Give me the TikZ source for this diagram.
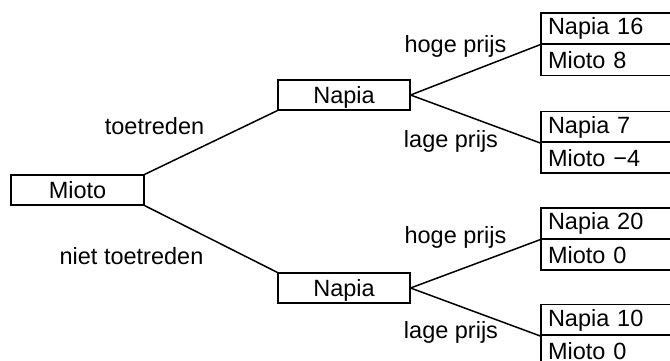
\documentclass[tikz,border=0pt]{standalone}
\usepackage{fontspec}
\setmainfont{Liberation Sans}
\begin{document}
\begin{tikzpicture}[x=1pt,y=-1pt,
  font=\fontsize{23.5}{28}\selectfont,
  decbox/.style={draw, line width=1.1pt, minimum width=133pt, minimum height=30pt, inner sep=0pt, text height=17pt, text depth=0pt},
  paybox/.style={draw, line width=1.1pt, text width=125pt, align=left, inner xsep=7pt, inner ysep=0pt, minimum height=31pt, text height=17pt, text depth=5pt},
  edge/.style={line width=1.5pt},
  lbl/.style={anchor=base, inner sep=0pt}]
\useasboundingbox (0,0) rectangle (670,360);
\clip (0,0) rectangle (670,360);
% decision nodes
\node[decbox] (mioto) at (77.5,190) {Mioto};
\node[decbox, minimum width=132pt] (napA) at (344,95) {Napia};
\node[decbox, minimum width=132pt] (napB) at (344,288) {Napia};
% payoff boxes
\node[paybox] (p1a) at (610.5,28.5) {Napia 16};
\node[paybox, text depth=0pt] (p1b) at (610.5,60) {Mioto 8};
\node[paybox] (p2a) at (610.5,127) {Napia 7};
\node[paybox, text depth=0pt] (p2b) at (610.5,157.5) {Mioto −4};
\node[paybox] (p3a) at (610.5,223.5) {Napia 20};
\node[paybox, text depth=0pt] (p3b) at (610.5,254.5) {Mioto 0};
\node[paybox] (p4a) at (610.5,320) {Napia 10};
\node[paybox, text depth=0pt] (p4b) at (610.5,350.5) {Mioto 0};
% connectors
\draw[edge] (mioto.north east) -- (napA.south west);
\draw[edge] (mioto.south east) -- (napB.north west);
\draw[edge] (napA.east) -- (p1a.south west);
\draw[edge] (napA.east) -- (p2a.south west);
\draw[edge] (napB.east) -- (p3a.south west);
\draw[edge] (napB.east) -- (p4a.south west);
% labels
\node[lbl] (l1) at (154.5,134) {toetreden};
\node[lbl] (l2) at (131.5,264) {niet toetreden};
\node[lbl] (l3) at (455.5,52) {hoge prijs};
\node[lbl] (l4) at (451,147) {lage prijs};
\node[lbl] (l5) at (455.5,243) {hoge prijs};
\node[lbl] (l6) at (451,338) {lage prijs};
\end{tikzpicture}
\end{document}
